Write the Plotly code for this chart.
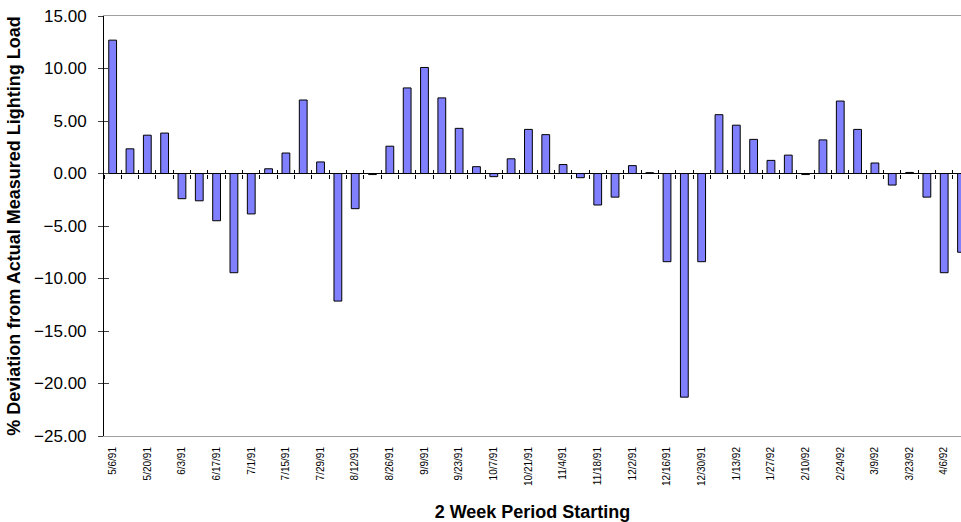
import plotly.graph_objects as go

periods = [
    "5/6/91", "5/13/91", "5/20/91", "5/27/91", "6/3/91", "6/10/91", "6/17/91", "6/24/91",
    "7/1/91", "7/8/91", "7/15/91", "7/22/91", "7/29/91", "8/5/91", "8/12/91", "8/19/91",
    "8/26/91", "9/2/91", "9/9/91", "9/16/91", "9/23/91", "9/30/91", "10/7/91", "10/14/91",
    "10/21/91", "10/28/91", "11/4/91", "11/11/91", "11/18/91", "11/25/91", "12/2/91", "12/9/91",
    "12/16/91", "12/23/91", "12/30/91", "1/6/92", "1/13/92", "1/20/92", "1/27/92", "2/3/92",
    "2/10/92", "2/17/92", "2/24/92", "3/2/92", "3/9/92", "3/16/92", "3/23/92", "3/30/92",
    "4/6/92", "4/13/92",
]

deviation = [
    12.70, 2.35, 3.65, 3.85, -2.40, -2.60, -4.50, -9.45, -3.85, 0.45,
    1.95, 7.00, 1.10, -12.15, -3.35, -0.10, 2.60, 8.15, 10.10, 7.20,
    4.30, 0.65, -0.30, 1.40, 4.20, 3.70, 0.85, -0.40, -3.00, -2.25,
    0.75, 0.08, -8.40, -21.30, -8.40, 5.60, 4.60, 3.25, 1.25, 1.75,
    -0.10, 3.20, 6.90, 4.20, 1.00, -1.10, 0.10, -2.25, -9.45, -7.50,
]

tick_labels = [
    "5/6/91", "5/20/91", "6/3/91", "6/17/91", "7/1/91", "7/15/91", "7/29/91", "8/12/91",
    "8/26/91", "9/9/91", "9/23/91", "10/7/91", "10/21/91", "11/4/91", "11/18/91", "12/2/91",
    "12/16/91", "12/30/91", "1/13/92", "1/27/92", "2/10/92", "2/24/92", "3/9/92", "3/23/92",
    "4/6/92",
]

y_ticks = [15, 10, 5, 0, -5, -10, -15, -20, -25]

FONT = "Liberation Sans, Arial, sans-serif"
x_range = [-0.5, 48.97]
y_range = [-25, 15]

fig = go.Figure()
fig.add_trace(go.Bar(
    x=periods, y=deviation,
    marker=dict(color="#8080ff", line=dict(color="#000000", width=1)),
    showlegend=False, hoverinfo="x+y",
))
# invisible helper traces so the overlay axes (crossing tick marks) are drawn
fig.add_trace(go.Scatter(x=[0], y=[0], xaxis="x2", yaxis="y", mode="markers",
                         marker=dict(opacity=0), showlegend=False, hoverinfo="skip"))
fig.add_trace(go.Scatter(x=[0], y=[0], xaxis="x3", yaxis="y", mode="markers",
                         marker=dict(opacity=0), showlegend=False, hoverinfo="skip"))
fig.add_trace(go.Scatter(x=[periods[0]], y=[0], xaxis="x", yaxis="y2", mode="markers",
                         marker=dict(opacity=0), showlegend=False, hoverinfo="skip"))

zero_pos = (0 - y_range[0]) / (y_range[1] - y_range[0])

fig.update_layout(
    width=961, height=522,
    margin=dict(l=104, r=0, t=16, b=86, autoexpand=False),
    paper_bgcolor="white", plot_bgcolor="white",
    font=dict(family=FONT, color="#000000"),
    bargap=0.55,
    xaxis=dict(
        type="category", range=x_range, automargin=False,
        tickmode="array", tickvals=tick_labels, ticktext=tick_labels,
        tickangle=-90, tickfont=dict(size=10, family=FONT),
        ticks="", ticklabelstandoff=6,
        showline=True, linecolor="#a0a0a0", linewidth=1, mirror=True,
        showgrid=False,
        title=dict(text="<b>2 Week Period Starting</b>", font=dict(size=18, family=FONT), standoff=20),
    ),
    xaxis2=dict(
        overlaying="x", anchor="free", position=zero_pos, type="linear", range=x_range,
        automargin=False,
        tickmode="linear", tick0=0.5, dtick=1, ticks="outside", ticklen=4, tickwidth=1,
        tickcolor="#000000",
        showticklabels=False, showline=False, showgrid=False, zeroline=False,
    ),
    xaxis3=dict(
        overlaying="x", anchor="free", position=zero_pos, type="linear", range=x_range,
        automargin=False,
        tickmode="linear", tick0=0.5, dtick=1, ticks="inside", ticklen=4, tickwidth=1,
        tickcolor="#000000",
        showticklabels=False, showline=False, showgrid=False, zeroline=False,
    ),
    yaxis=dict(
        range=y_range, tickmode="array", tickvals=y_ticks, tickformat=".2f", automargin=False,
        ticks="outside", ticklen=5, tickcolor="#404040", ticklabelstandoff=8,
        tickfont=dict(size=17, family=FONT),
        showline=True, linecolor="#000000", linewidth=1,
        zeroline=True, zerolinecolor="#000000", zerolinewidth=1,
        showgrid=False,
        title=dict(text="<b>% Deviation from Actual Measured Lighting Load</b>",
                   font=dict(size=18, family=FONT), standoff=8),
    ),
    yaxis2=dict(
        overlaying="y", anchor="x", side="left", range=y_range, automargin=False,
        tickmode="array", tickvals=y_ticks, ticks="inside", ticklen=5, tickcolor="#404040",
        showticklabels=False, showline=False, showgrid=False, zeroline=False,
    ),
)

fig.write_html(
    "out.html",
    config={"displayModeBar": False},
    post_script="document.body.style.margin='0';document.body.style.padding='0';"
                "document.body.style.overflow='hidden';",
)
